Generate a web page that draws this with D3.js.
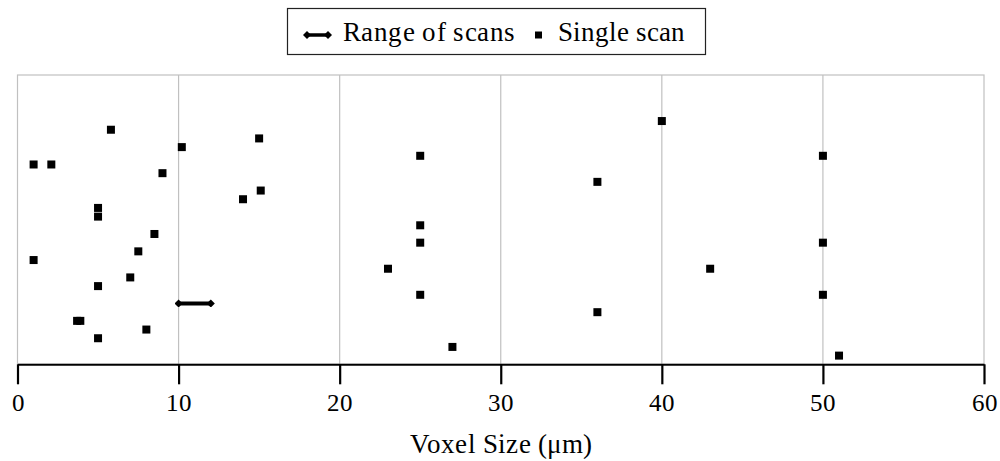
<!DOCTYPE html>
<html>
<head>
<meta charset="utf-8">
<script src="https://cdn.jsdelivr.net/npm/d3@7"></script>
<style>
  @font-face {
    font-family: "PlotSerif";
    src: local("Liberation Serif"), local("LiberationSerif"), local("LiberationSerif-Regular"), local("Liberation Serif Regular");
  }
  svg text { font-family: "PlotSerif", "Liberation Serif", "Times New Roman", "DejaVu Serif"; }
</style>
</head>
<body style="margin:0">
<svg id="voxelPlot" width="1000" height="461" font-family="Liberation Serif"></svg>
<script>
// Single scans: voxel size (µm) and the row each study sits on
const singleScanSize = [51, 27, 5, 8, 3.7, 3.9, 36, 25, 50, 5, 7, 23, 43, 1, 7.5, 25, 50, 8.5, 25, 5, 5, 14, 15.1, 36, 9, 1, 2.1, 25, 50, 10.2, 15, 5.8, 40];
const singleScanRow  = [1, 2, 3, 4, 5, 5, 6, 8, 8, 9, 10, 11, 11, 12, 13, 14, 14, 15, 16, 17, 18, 19, 20, 21, 22, 23, 23, 24, 24, 25, 26, 27, 28];

// Studies reporting a range of voxel sizes
const rangeMin = [10];
const rangeMax = [12];
const rangeRow = [7];

const xTicks = [0, 10, 20, 30, 40, 50, 60];
const legendLabels = ["Range of scans", "Single scan"];
const xAxisTitle = "Voxel Size (\u03bcm)";

const FONT = '"PlotSerif", "Liberation Serif", "Times New Roman", "DejaVu Serif"';

const svg = d3.select("#voxelPlot").style("display", "block");
const plotLeft = 17.5, plotRight = 984, plotTop = 75, plotBottom = 364.3;

const x = d3.scaleLinear().domain([0, 60]).range([plotLeft, plotRight]);
const y = d3.scaleLinear().domain([0, 33.3]).range([plotBottom, plotTop]);

// Frame and vertical gridlines
svg.append("rect")
  .attr("x", plotLeft).attr("y", plotTop)
  .attr("width", plotRight - plotLeft).attr("height", plotBottom - plotTop)
  .attr("fill", "none").attr("stroke", "#c0c0c0").attr("stroke-width", 1.2);

svg.append("g").selectAll("line")
  .data(xTicks.slice(1, -1))
  .join("line")
  .attr("x1", d => x(d)).attr("x2", d => x(d))
  .attr("y1", plotTop).attr("y2", plotBottom)
  .attr("stroke", "#c0c0c0").attr("stroke-width", 1.2);

// Bottom axis
const axis = svg.append("g")
  .attr("transform", `translate(0,${plotBottom})`)
  .call(d3.axisBottom(x).tickValues(xTicks).tickSize(20).tickPadding(9).tickSizeOuter(0));
axis.attr("font-family", "Liberation Serif").attr("font-size", null);
axis.select(".domain").attr("stroke", "#000").attr("stroke-width", 2);
axis.selectAll(".tick line").attr("stroke", "#000").attr("stroke-width", 2.2);
axis.selectAll(".tick text")
  .attr("font-family", "Liberation Serif")
  .style("font-family", FONT)
  .style("font-size", "25px").attr("fill", "#000");

svg.append("text")
  .attr("x", (plotLeft + plotRight) / 2).attr("y", 453)
  .attr("text-anchor", "middle")
  .attr("font-family", "Liberation Serif")
  .style("font-family", FONT).style("font-size", "27px")
  .attr("textLength", 182).attr("lengthAdjust", "spacing")
  .text(xAxisTitle);

// Diamond end caps for range bars
const defs = svg.append("defs");
defs.append("marker")
  .attr("id", "diamond")
  .attr("viewBox", "-4 -4 8 8")
  .attr("refX", 0).attr("refY", 0)
  .attr("markerUnits", "userSpaceOnUse")
  .attr("markerWidth", 8).attr("markerHeight", 8)
  .attr("orient", "auto")
  .append("path").attr("d", "M-4,0L0,-4L4,0L0,4Z").attr("fill", "#000");

// Range bars
svg.append("g").selectAll("line")
  .data(rangeMin.map((d, i) => ({ lo: d, hi: rangeMax[i], row: rangeRow[i] })))
  .join("line")
  .attr("x1", d => x(d.lo)).attr("x2", d => x(d.hi))
  .attr("y1", d => y(d.row)).attr("y2", d => y(d.row))
  .attr("stroke", "#000").attr("stroke-width", 4)
  .attr("marker-start", "url(#diamond)").attr("marker-end", "url(#diamond)");

// Single scan squares
const sq = 8;
svg.append("g").selectAll("rect")
  .data(singleScanSize.map((d, i) => ({ v: d, row: singleScanRow[i] })))
  .join("rect")
  .attr("x", d => x(d.v) - sq / 2).attr("y", d => y(d.row) - sq / 2)
  .attr("width", sq).attr("height", sq)
  .attr("fill", "#000");

// Legend
const lg = svg.append("g");
lg.append("rect")
  .attr("x", 287.5).attr("y", 8.5).attr("width", 418).attr("height", 46)
  .attr("fill", "#fff").attr("stroke", "#222").attr("stroke-width", 1.2);

lg.append("line")
  .attr("x1", 307).attr("x2", 328).attr("y1", 35).attr("y2", 35)
  .attr("stroke", "#000").attr("stroke-width", 3.5)
  .attr("marker-start", "url(#diamond)").attr("marker-end", "url(#diamond)");
lg.append("text").attr("x", 343).attr("y", 41)
  .attr("font-family", "Liberation Serif")
  .style("font-family", FONT).style("font-size", "27px")
  .attr("textLength", 172).attr("lengthAdjust", "spacing")
  .text(legendLabels[0]);

lg.append("rect").attr("x", 535).attr("y", 31.5).attr("width", 7).attr("height", 7).attr("fill", "#000");
lg.append("text").attr("x", 558).attr("y", 41)
  .attr("font-family", "Liberation Serif")
  .style("font-family", FONT).style("font-size", "27px")
  .attr("textLength", 127).attr("lengthAdjust", "spacing")
  .text(legendLabels[1]);
</script>
</body>
</html>
